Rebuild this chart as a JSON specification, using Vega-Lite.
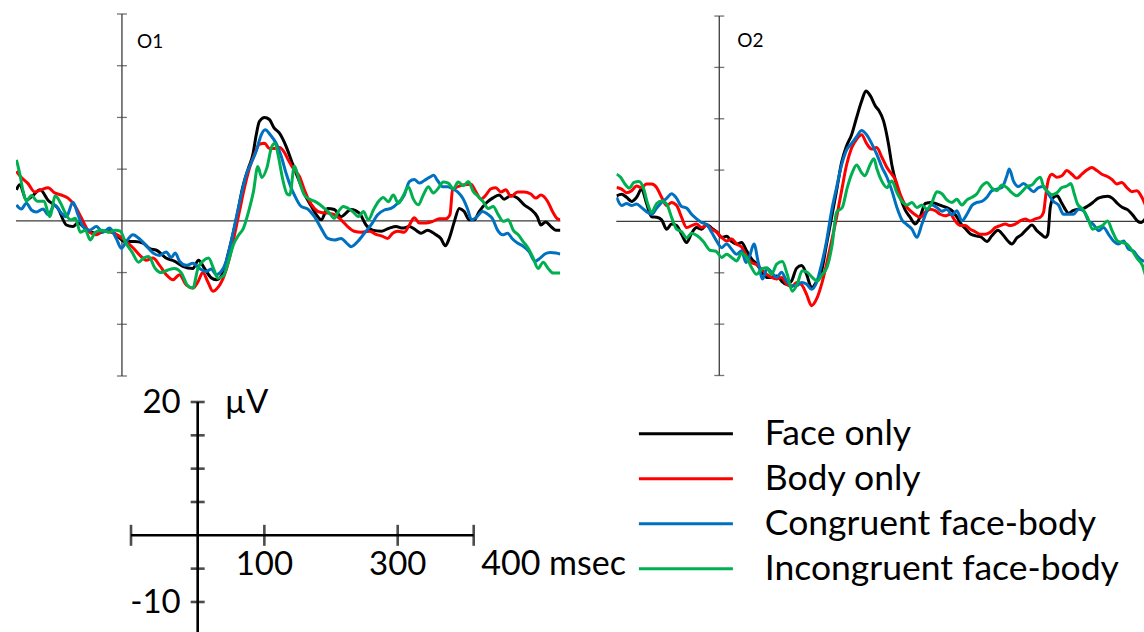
{
  "$schema": "https://vega.github.io/schema/vega-lite/v6.json",
  "background": "white",
  "padding": {"left": 15, "top": 13, "right": 0, "bottom": 0},
  "bounds": "flush",
  "columns": 2,
  "spacing": {"row": 26, "column": 55.3},
  "config": {
    "view": {"stroke": null},
    "font": "Lato",
    "text": {"font": "Lato", "color": "black"},
    "legend": {
      "orient": "none", "legendX": 621.4, "legendY": 397.2, "padding": 0,
      "symbolType": "stroke", "symbolSize": 8836, "symbolStrokeWidth": 3,
      "labelFont": "Lato", "labelFontSize": 35.5, "labelColor": "black",
      "labelOffset": 30.4, "rowPadding": 0, "clipHeight": 45, "labelLimit": 1000
    }
  },
  "datasets": {
    "o1": [
      {"cond":"Face only","t":-100.6,"v":3.0},{"cond":"Face only","t":-97.5,"v":3.5},{"cond":"Face only","t":-91,"v":2.0},{"cond":"Face only","t":-86,"v":2.35},{"cond":"Face only","t":-78,"v":3.0},{"cond":"Face only","t":-70.5,"v":2.0},{"cond":"Face only","t":-61,"v":1.2},{"cond":"Face only","t":-53,"v":-0.4},{"cond":"Face only","t":-46.7,"v":-0.55},{"cond":"Face only","t":-42,"v":-0.2},{"cond":"Face only","t":-32,"v":-1.0},{"cond":"Face only","t":-23,"v":-1.2},{"cond":"Face only","t":-13,"v":-0.9},{"cond":"Face only","t":-5.4,"v":-1.35},{"cond":"Face only","t":2.5,"v":-2.0},{"cond":"Face only","t":12,"v":-2.0},{"cond":"Face only","t":20,"v":-2.15},{"cond":"Face only","t":26,"v":-2.65},{"cond":"Face only","t":34,"v":-2.9},{"cond":"Face only","t":42,"v":-3.6},{"cond":"Face only","t":50,"v":-3.9},{"cond":"Face only","t":58,"v":-4.4},{"cond":"Face only","t":67.6,"v":-4.6},{"cond":"Face only","t":73,"v":-3.8},{"cond":"Face only","t":78.7,"v":-4.6},{"cond":"Face only","t":85,"v":-5.5},{"cond":"Face only","t":90,"v":-5.7},{"cond":"Face only","t":96,"v":-5.1},{"cond":"Face only","t":101,"v":-3.3},{"cond":"Face only","t":105.7,"v":-1.35},{"cond":"Face only","t":110.5,"v":0.9},{"cond":"Face only","t":115,"v":3.2},{"cond":"Face only","t":120.6,"v":5.1},{"cond":"Face only","t":124.8,"v":6.4},{"cond":"Face only","t":128,"v":8.3},{"cond":"Face only","t":131,"v":9.6},{"cond":"Face only","t":136,"v":10.0},{"cond":"Face only","t":140.6,"v":9.8},{"cond":"Face only","t":145,"v":9.0},{"cond":"Face only","t":150,"v":8.5},{"cond":"Face only","t":156.5,"v":7.2},{"cond":"Face only","t":162,"v":5.7},{"cond":"Face only","t":168,"v":4.1},{"cond":"Face only","t":174,"v":2.6},{"cond":"Face only","t":180,"v":1.5},{"cond":"Face only","t":186,"v":0.5},{"cond":"Face only","t":190,"v":0.1},{"cond":"Face only","t":196,"v":1.2},{"cond":"Face only","t":202.5,"v":1.1},{"cond":"Face only","t":208.9,"v":0.4},{"cond":"Face only","t":218.4,"v":1.1},{"cond":"Face only","t":226.3,"v":0.75},{"cond":"Face only","t":232.7,"v":-0.4},{"cond":"Face only","t":239,"v":-0.9},{"cond":"Face only","t":247,"v":-1.0},{"cond":"Face only","t":255,"v":-0.7},{"cond":"Face only","t":261.3,"v":-0.55},{"cond":"Face only","t":267.6,"v":-0.7},{"cond":"Face only","t":274,"v":-0.55},{"cond":"Face only","t":280.3,"v":-0.9},{"cond":"Face only","t":285,"v":-1.2},{"cond":"Face only","t":291.4,"v":-0.9},{"cond":"Face only","t":299.4,"v":-1.35},{"cond":"Face only","t":304,"v":-1.7},{"cond":"Face only","t":308.3,"v":-2.4},{"cond":"Face only","t":312,"v":-1.7},{"cond":"Face only","t":316.8,"v":-0.1},{"cond":"Face only","t":321.6,"v":1.2},{"cond":"Face only","t":326.3,"v":0.9},{"cond":"Face only","t":331,"v":0.1},{"cond":"Face only","t":335.9,"v":0.1},{"cond":"Face only","t":340.6,"v":0.9},{"cond":"Face only","t":347,"v":1.7},{"cond":"Face only","t":353.3,"v":2.2},{"cond":"Face only","t":359.7,"v":2.5},{"cond":"Face only","t":364.4,"v":2.1},{"cond":"Face only","t":370.8,"v":2.45},{"cond":"Face only","t":377,"v":2.2},{"cond":"Face only","t":383.5,"v":1.55},{"cond":"Face only","t":389.8,"v":1.1},{"cond":"Face only","t":396,"v":0.4},{"cond":"Face only","t":399.4,"v":-0.4},{"cond":"Face only","t":404,"v":-0.1},{"cond":"Face only","t":409,"v":-0.55},{"cond":"Face only","t":413.7,"v":-0.9},{"cond":"Face only","t":418,"v":-0.9},

      {"cond":"Body only","t":-100.6,"v":4.8},{"cond":"Body only","t":-95.9,"v":4.2},{"cond":"Body only","t":-89.5,"v":3.6},{"cond":"Body only","t":-83.2,"v":2.8},{"cond":"Body only","t":-76.8,"v":3.0},{"cond":"Body only","t":-70.5,"v":3.2},{"cond":"Body only","t":-64.1,"v":2.7},{"cond":"Body only","t":-57.8,"v":2.5},{"cond":"Body only","t":-51.4,"v":2.2},{"cond":"Body only","t":-45.1,"v":1.5},{"cond":"Body only","t":-38.7,"v":0.3},{"cond":"Body only","t":-32.4,"v":-0.9},{"cond":"Body only","t":-24.4,"v":-1.35},{"cond":"Body only","t":-18.1,"v":-1.0},{"cond":"Body only","t":-10.2,"v":-1.1},{"cond":"Body only","t":-2.2,"v":-1.5},{"cond":"Body only","t":4.1,"v":-2.0},{"cond":"Body only","t":10.5,"v":-2.6},{"cond":"Body only","t":16.8,"v":-3.3},{"cond":"Body only","t":23.2,"v":-3.8},{"cond":"Body only","t":29.5,"v":-3.6},{"cond":"Body only","t":35.9,"v":-4.3},{"cond":"Body only","t":42.2,"v":-5.2},{"cond":"Body only","t":48.6,"v":-5.7},{"cond":"Body only","t":54.9,"v":-5.2},{"cond":"Body only","t":61.3,"v":-6.2},{"cond":"Body only","t":67.6,"v":-6.5},{"cond":"Body only","t":72.4,"v":-5.9},{"cond":"Body only","t":77.1,"v":-5.0},{"cond":"Body only","t":81.9,"v":-5.9},{"cond":"Body only","t":86.7,"v":-6.8},{"cond":"Body only","t":91.4,"v":-6.45},{"cond":"Body only","t":97.8,"v":-5.2},{"cond":"Body only","t":102.5,"v":-3.6},{"cond":"Body only","t":107.3,"v":-1.35},{"cond":"Body only","t":112,"v":0.9},{"cond":"Body only","t":116.8,"v":3.2},{"cond":"Body only","t":121.6,"v":5.1},{"cond":"Body only","t":126.3,"v":6.4},{"cond":"Body only","t":131,"v":7.4},{"cond":"Body only","t":135.9,"v":7.5},{"cond":"Body only","t":140.6,"v":7.0},{"cond":"Body only","t":145.4,"v":7.0},{"cond":"Body only","t":150.2,"v":7.1},{"cond":"Body only","t":155,"v":6.6},{"cond":"Body only","t":159,"v":5.8},{"cond":"Body only","t":164.4,"v":4.9},{"cond":"Body only","t":169.2,"v":4.3},{"cond":"Body only","t":173.9,"v":3.0},{"cond":"Body only","t":178.7,"v":1.9},{"cond":"Body only","t":183.5,"v":1.2},{"cond":"Body only","t":189.8,"v":0.8},{"cond":"Body only","t":196.2,"v":0.75},{"cond":"Body only","t":202.5,"v":0.6},{"cond":"Body only","t":208.9,"v":0.1},{"cond":"Body only","t":215.2,"v":-0.55},{"cond":"Body only","t":221.6,"v":-1.0},{"cond":"Body only","t":227.9,"v":-1.1},{"cond":"Body only","t":235.9,"v":-1.0},{"cond":"Body only","t":242.2,"v":-1.3},{"cond":"Body only","t":248.6,"v":-1.5},{"cond":"Body only","t":253.3,"v":-1.7},{"cond":"Body only","t":258.1,"v":-1.2},{"cond":"Body only","t":262.9,"v":-1.0},{"cond":"Body only","t":269.2,"v":-1.1},{"cond":"Body only","t":274,"v":-0.4},{"cond":"Body only","t":278.7,"v":0.3},{"cond":"Body only","t":283.5,"v":-0.2},{"cond":"Body only","t":289.8,"v":-0.2},{"cond":"Body only","t":296.2,"v":-0.05},{"cond":"Body only","t":302.5,"v":0.2},{"cond":"Body only","t":308.9,"v":0.2},{"cond":"Body only","t":312.7,"v":0.6},{"cond":"Body only","t":315.2,"v":3.0},{"cond":"Body only","t":320,"v":3.3},{"cond":"Body only","t":326.3,"v":3.5},{"cond":"Body only","t":332.7,"v":3.55},{"cond":"Body only","t":337.5,"v":2.8},{"cond":"Body only","t":342.2,"v":2.1},{"cond":"Body only","t":347,"v":2.5},{"cond":"Body only","t":351.7,"v":3.1},{"cond":"Body only","t":356.5,"v":3.2},{"cond":"Body only","t":361.3,"v":2.8},{"cond":"Body only","t":366,"v":3.0},{"cond":"Body only","t":370.8,"v":2.35},{"cond":"Body only","t":377.1,"v":2.8},{"cond":"Body only","t":383.5,"v":2.8},{"cond":"Body only","t":389.8,"v":2.6},{"cond":"Body only","t":394.6,"v":2.2},{"cond":"Body only","t":399.4,"v":2.5},{"cond":"Body only","t":405.7,"v":1.9},{"cond":"Body only","t":410.5,"v":0.9},{"cond":"Body only","t":415.2,"v":0.2},{"cond":"Body only","t":417.8,"v":0.1},

      {"cond":"Congruent face-body","t":-100.6,"v":1.55},{"cond":"Congruent face-body","t":-95.9,"v":1.15},{"cond":"Congruent face-body","t":-91.1,"v":1.7},{"cond":"Congruent face-body","t":-86.3,"v":1.05},{"cond":"Congruent face-body","t":-81.6,"v":0.85},{"cond":"Congruent face-body","t":-75.2,"v":1.15},{"cond":"Congruent face-body","t":-70.5,"v":0.6},{"cond":"Congruent face-body","t":-64.1,"v":1.5},{"cond":"Congruent face-body","t":-57.8,"v":0.75},{"cond":"Congruent face-body","t":-53,"v":0.4},{"cond":"Congruent face-body","t":-46.7,"v":1.8},{"cond":"Congruent face-body","t":-41.9,"v":0.6},{"cond":"Congruent face-body","t":-37.1,"v":-0.55},{"cond":"Congruent face-body","t":-30.8,"v":-0.9},{"cond":"Congruent face-body","t":-24.4,"v":-0.55},{"cond":"Congruent face-body","t":-18.1,"v":-1.1},{"cond":"Congruent face-body","t":-11.7,"v":-0.7},{"cond":"Congruent face-body","t":-5.4,"v":-1.7},{"cond":"Congruent face-body","t":-0.6,"v":-2.65},{"cond":"Congruent face-body","t":4.1,"v":-2.0},{"cond":"Congruent face-body","t":10.5,"v":-1.35},{"cond":"Congruent face-body","t":16.8,"v":-1.75},{"cond":"Congruent face-body","t":23.2,"v":-2.4},{"cond":"Congruent face-body","t":29.5,"v":-3.1},{"cond":"Congruent face-body","t":35.9,"v":-3.35},{"cond":"Congruent face-body","t":42.2,"v":-3.0},{"cond":"Congruent face-body","t":47,"v":-3.55},{"cond":"Congruent face-body","t":50.8,"v":-3.1},{"cond":"Congruent face-body","t":54.9,"v":-3.9},{"cond":"Congruent face-body","t":61.3,"v":-4.3},{"cond":"Congruent face-body","t":67.6,"v":-4.1},{"cond":"Congruent face-body","t":74,"v":-4.6},{"cond":"Congruent face-body","t":80.3,"v":-4.9},{"cond":"Congruent face-body","t":85.1,"v":-4.65},{"cond":"Congruent face-body","t":89.8,"v":-5.2},{"cond":"Congruent face-body","t":94.6,"v":-4.9},{"cond":"Congruent face-body","t":99.4,"v":-3.9},{"cond":"Congruent face-body","t":104.1,"v":-2.0},{"cond":"Congruent face-body","t":108.9,"v":0.25},{"cond":"Congruent face-body","t":113.7,"v":2.5},{"cond":"Congruent face-body","t":118.4,"v":4.45},{"cond":"Congruent face-body","t":123.2,"v":5.6},{"cond":"Congruent face-body","t":127.9,"v":6.7},{"cond":"Congruent face-body","t":132.7,"v":8.3},{"cond":"Congruent face-body","t":136.5,"v":8.8},{"cond":"Congruent face-body","t":141.6,"v":8.3},{"cond":"Congruent face-body","t":147,"v":7.5},{"cond":"Congruent face-body","t":151.7,"v":6.3},{"cond":"Congruent face-body","t":156.5,"v":4.6},{"cond":"Congruent face-body","t":161.3,"v":3.2},{"cond":"Congruent face-body","t":164.4,"v":2.5},{"cond":"Congruent face-body","t":170.8,"v":1.4},{"cond":"Congruent face-body","t":177.1,"v":1.15},{"cond":"Congruent face-body","t":183.5,"v":0.4},{"cond":"Congruent face-body","t":189.8,"v":-0.7},{"cond":"Congruent face-body","t":196.2,"v":-1.7},{"cond":"Congruent face-body","t":202.5,"v":-1.85},{"cond":"Congruent face-body","t":208.9,"v":-1.7},{"cond":"Congruent face-body","t":215.2,"v":-2.25},{"cond":"Congruent face-body","t":218.4,"v":-2.5},{"cond":"Congruent face-body","t":224.8,"v":-2.0},{"cond":"Congruent face-body","t":231.1,"v":-1.2},{"cond":"Congruent face-body","t":237.5,"v":-0.4},{"cond":"Congruent face-body","t":243.8,"v":0.6},{"cond":"Congruent face-body","t":250.2,"v":1.05},{"cond":"Congruent face-body","t":256.5,"v":1.2},{"cond":"Congruent face-body","t":262.9,"v":1.7},{"cond":"Congruent face-body","t":269.2,"v":2.5},{"cond":"Congruent face-body","t":274,"v":3.8},{"cond":"Congruent face-body","t":278.7,"v":4.0},{"cond":"Congruent face-body","t":283.5,"v":3.65},{"cond":"Congruent face-body","t":288.3,"v":3.9},{"cond":"Congruent face-body","t":293,"v":4.2},{"cond":"Congruent face-body","t":297.1,"v":4.4},{"cond":"Congruent face-body","t":300.9,"v":3.9},{"cond":"Congruent face-body","t":305.7,"v":3.3},{"cond":"Congruent face-body","t":310.5,"v":3.3},{"cond":"Congruent face-body","t":315.2,"v":3.1},{"cond":"Congruent face-body","t":320,"v":2.8},{"cond":"Congruent face-body","t":324.8,"v":2.2},{"cond":"Congruent face-body","t":329.5,"v":1.15},{"cond":"Congruent face-body","t":333.3,"v":0.1},{"cond":"Congruent face-body","t":338.4,"v":0.4},{"cond":"Congruent face-body","t":343.8,"v":0.9},{"cond":"Congruent face-body","t":348.6,"v":0.65},{"cond":"Congruent face-body","t":353.3,"v":0.2},{"cond":"Congruent face-body","t":358.1,"v":-0.9},{"cond":"Congruent face-body","t":362.9,"v":-1.35},{"cond":"Congruent face-body","t":367.6,"v":-1.2},{"cond":"Congruent face-body","t":372.4,"v":-1.75},{"cond":"Congruent face-body","t":377.1,"v":-2.15},{"cond":"Congruent face-body","t":381.9,"v":-2.4},{"cond":"Congruent face-body","t":388.3,"v":-3.0},{"cond":"Congruent face-body","t":393.7,"v":-3.9},{"cond":"Congruent face-body","t":398.7,"v":-3.6},{"cond":"Congruent face-body","t":403.2,"v":-3.2},{"cond":"Congruent face-body","t":408.3,"v":-3.05},{"cond":"Congruent face-body","t":413.7,"v":-3.1},{"cond":"Congruent face-body","t":417.8,"v":-3.2},

      {"cond":"Incongruent face-body","t":-100.6,"v":5.9},{"cond":"Incongruent face-body","t":-97.5,"v":4.6},{"cond":"Incongruent face-body","t":-94.3,"v":2.9},{"cond":"Incongruent face-body","t":-91.1,"v":1.9},{"cond":"Incongruent face-body","t":-86.3,"v":2.45},{"cond":"Incongruent face-body","t":-80.6,"v":1.9},{"cond":"Incongruent face-body","t":-74.3,"v":1.9},{"cond":"Incongruent face-body","t":-68.9,"v":0.4},{"cond":"Incongruent face-body","t":-63.5,"v":2.4},{"cond":"Incongruent face-body","t":-58.4,"v":1.7},{"cond":"Incongruent face-body","t":-54,"v":0.75},{"cond":"Incongruent face-body","t":-48.9,"v":0.1},{"cond":"Incongruent face-body","t":-44.4,"v":0.25},{"cond":"Incongruent face-body","t":-39.7,"v":-1.1},{"cond":"Incongruent face-body","t":-34.9,"v":-0.9},{"cond":"Incongruent face-body","t":-30.2,"v":-1.85},{"cond":"Incongruent face-body","t":-25.4,"v":-1.1},{"cond":"Incongruent face-body","t":-19,"v":-0.9},{"cond":"Incongruent face-body","t":-12.7,"v":-1.1},{"cond":"Incongruent face-body","t":-6.3,"v":-0.9},{"cond":"Incongruent face-body","t":-1.6,"v":-1.0},{"cond":"Incongruent face-body","t":3.2,"v":-2.05},{"cond":"Incongruent face-body","t":9.5,"v":-3.0},{"cond":"Incongruent face-body","t":15.9,"v":-4.0},{"cond":"Incongruent face-body","t":20.6,"v":-3.6},{"cond":"Incongruent face-body","t":25.4,"v":-3.45},{"cond":"Incongruent face-body","t":31.7,"v":-4.6},{"cond":"Incongruent face-body","t":37.5,"v":-5.0},{"cond":"Incongruent face-body","t":43.8,"v":-4.75},{"cond":"Incongruent face-body","t":50.2,"v":-4.6},{"cond":"Incongruent face-body","t":56.5,"v":-5.0},{"cond":"Incongruent face-body","t":62.2,"v":-6.2},{"cond":"Incongruent face-body","t":67.6,"v":-6.5},{"cond":"Incongruent face-body","t":72.4,"v":-4.6},{"cond":"Incongruent face-body","t":77.1,"v":-3.9},{"cond":"Incongruent face-body","t":82.5,"v":-3.6},{"cond":"Incongruent face-body","t":87.3,"v":-4.6},{"cond":"Incongruent face-body","t":91.4,"v":-5.55},{"cond":"Incongruent face-body","t":96.8,"v":-5.3},{"cond":"Incongruent face-body","t":101.6,"v":-3.9},{"cond":"Incongruent face-body","t":106.3,"v":-2.3},{"cond":"Incongruent face-body","t":111.1,"v":-1.4},{"cond":"Incongruent face-body","t":115.9,"v":-0.7},{"cond":"Incongruent face-body","t":120.6,"v":0.85},{"cond":"Incongruent face-body","t":125.4,"v":2.85},{"cond":"Incongruent face-body","t":129.5,"v":5.25},{"cond":"Incongruent face-body","t":133.3,"v":4.2},{"cond":"Incongruent face-body","t":138.1,"v":5.1},{"cond":"Incongruent face-body","t":142.9,"v":7.2},{"cond":"Incongruent face-body","t":146,"v":7.5},{"cond":"Incongruent face-body","t":149.2,"v":6.2},{"cond":"Incongruent face-body","t":153.3,"v":4.0},{"cond":"Incongruent face-body","t":157.5,"v":2.6},{"cond":"Incongruent face-body","t":160,"v":2.5},{"cond":"Incongruent face-body","t":164.4,"v":5.3},{"cond":"Incongruent face-body","t":169.2,"v":3.8},{"cond":"Incongruent face-body","t":173.9,"v":2.5},{"cond":"Incongruent face-body","t":178.7,"v":2.1},{"cond":"Incongruent face-body","t":183.5,"v":1.9},{"cond":"Incongruent face-body","t":188.3,"v":1.6},{"cond":"Incongruent face-body","t":193,"v":1.2},{"cond":"Incongruent face-body","t":197.8,"v":0.75},{"cond":"Incongruent face-body","t":202.5,"v":0.25},{"cond":"Incongruent face-body","t":206.3,"v":0.9},{"cond":"Incongruent face-body","t":211.1,"v":1.4},{"cond":"Incongruent face-body","t":215.9,"v":1.2},{"cond":"Incongruent face-body","t":220.6,"v":0.85},{"cond":"Incongruent face-body","t":225.4,"v":0.4},{"cond":"Incongruent face-body","t":230.2,"v":0.9},{"cond":"Incongruent face-body","t":234.9,"v":0.1},{"cond":"Incongruent face-body","t":239.7,"v":1.05},{"cond":"Incongruent face-body","t":244.4,"v":1.85},{"cond":"Incongruent face-body","t":249.2,"v":2.25},{"cond":"Incongruent face-body","t":254,"v":1.85},{"cond":"Incongruent face-body","t":258.7,"v":2.5},{"cond":"Incongruent face-body","t":263.5,"v":1.7},{"cond":"Incongruent face-body","t":268.3,"v":2.45},{"cond":"Incongruent face-body","t":273,"v":3.3},{"cond":"Incongruent face-body","t":277.8,"v":2.1},{"cond":"Incongruent face-body","t":282.5,"v":1.55},{"cond":"Incongruent face-body","t":287.3,"v":2.5},{"cond":"Incongruent face-body","t":292.1,"v":3.3},{"cond":"Incongruent face-body","t":296.8,"v":2.7},{"cond":"Incongruent face-body","t":301.6,"v":3.15},{"cond":"Incongruent face-body","t":306.3,"v":3.75},{"cond":"Incongruent face-body","t":311.1,"v":3.65},{"cond":"Incongruent face-body","t":315.9,"v":3.1},{"cond":"Incongruent face-body","t":320.6,"v":3.75},{"cond":"Incongruent face-body","t":325.4,"v":3.4},{"cond":"Incongruent face-body","t":330.2,"v":3.8},{"cond":"Incongruent face-body","t":334.9,"v":2.85},{"cond":"Incongruent face-body","t":339.7,"v":2.35},{"cond":"Incongruent face-body","t":344.4,"v":1.85},{"cond":"Incongruent face-body","t":349.2,"v":1.2},{"cond":"Incongruent face-body","t":354,"v":1.4},{"cond":"Incongruent face-body","t":358.7,"v":0.6},{"cond":"Incongruent face-body","t":363.5,"v":-0.05},{"cond":"Incongruent face-body","t":368.3,"v":0.1},{"cond":"Incongruent face-body","t":373,"v":-0.9},{"cond":"Incongruent face-body","t":377.8,"v":-1.35},{"cond":"Incongruent face-body","t":382.5,"v":-2.0},{"cond":"Incongruent face-body","t":387.3,"v":-2.65},{"cond":"Incongruent face-body","t":392.1,"v":-3.6},{"cond":"Incongruent face-body","t":396.8,"v":-4.6},{"cond":"Incongruent face-body","t":401.6,"v":-4.0},{"cond":"Incongruent face-body","t":406.3,"v":-4.6},{"cond":"Incongruent face-body","t":411.1,"v":-5.05},{"cond":"Incongruent face-body","t":417.8,"v":-5.05}
    ],
    "o2": [
      {"cond":"Face only","t":-99.7,"v":2.5},{"cond":"Face only","t":-94.8,"v":2.65},{"cond":"Face only","t":-90,"v":2.35},{"cond":"Face only","t":-85.1,"v":1.95},{"cond":"Face only","t":-80.3,"v":2.35},{"cond":"Face only","t":-75.4,"v":3.15},{"cond":"Face only","t":-70.6,"v":1.75},{"cond":"Face only","t":-65.7,"v":0.45},{"cond":"Face only","t":-60.8,"v":0.4},{"cond":"Face only","t":-56,"v":0.15},{"cond":"Face only","t":-51.1,"v":-0.75},{"cond":"Face only","t":-46.3,"v":-0.25},{"cond":"Face only","t":-41.4,"v":-0.4},{"cond":"Face only","t":-36.6,"v":-1.25},{"cond":"Face only","t":-31.7,"v":-2.05},{"cond":"Face only","t":-26.9,"v":-1.15},{"cond":"Face only","t":-22,"v":-0.6},{"cond":"Face only","t":-17.2,"v":-0.75},{"cond":"Face only","t":-12.3,"v":-0.3},{"cond":"Face only","t":-7.4,"v":-0.65},{"cond":"Face only","t":-2.6,"v":-1.0},{"cond":"Face only","t":2.3,"v":-1.55},{"cond":"Face only","t":7.1,"v":-1.45},{"cond":"Face only","t":12,"v":-1.95},{"cond":"Face only","t":16.8,"v":-2.2},{"cond":"Face only","t":21.7,"v":-2.05},{"cond":"Face only","t":26.5,"v":-2.85},{"cond":"Face only","t":31.4,"v":-3.65},{"cond":"Face only","t":36.2,"v":-4.15},{"cond":"Face only","t":41.1,"v":-4.85},{"cond":"Face only","t":46,"v":-5.45},{"cond":"Face only","t":50.8,"v":-5.45},{"cond":"Face only","t":55.7,"v":-5.3},{"cond":"Face only","t":60.5,"v":-5.8},{"cond":"Face only","t":65.4,"v":-6.15},{"cond":"Face only","t":70.2,"v":-5.8},{"cond":"Face only","t":75.1,"v":-4.55},{"cond":"Face only","t":79.9,"v":-4.3},{"cond":"Face only","t":84.8,"v":-5.15},{"cond":"Face only","t":89.6,"v":-6.45},{"cond":"Face only","t":94.5,"v":-5.85},{"cond":"Face only","t":99.4,"v":-4.8},{"cond":"Face only","t":104.2,"v":-2.2},{"cond":"Face only","t":109.1,"v":0.4},{"cond":"Face only","t":113.9,"v":3.0},{"cond":"Face only","t":118.8,"v":5.75},{"cond":"Face only","t":123.6,"v":7.35},{"cond":"Face only","t":128.5,"v":8.45},{"cond":"Face only","t":133.3,"v":10.1},{"cond":"Face only","t":138.2,"v":11.7},{"cond":"Face only","t":142.4,"v":12.7},{"cond":"Face only","t":146.9,"v":12.2},{"cond":"Face only","t":151.8,"v":11.2},{"cond":"Face only","t":155,"v":10.8},{"cond":"Face only","t":159.5,"v":9.8},{"cond":"Face only","t":164.4,"v":7.5},{"cond":"Face only","t":167.6,"v":5.5},{"cond":"Face only","t":171.5,"v":3.8},{"cond":"Face only","t":175.7,"v":2.35},{"cond":"Face only","t":180.6,"v":1.1},{"cond":"Face only","t":185.4,"v":0.4},{"cond":"Face only","t":190.3,"v":-0.25},{"cond":"Face only","t":195.1,"v":0.45},{"cond":"Face only","t":200,"v":1.75},{"cond":"Face only","t":205.8,"v":1.85},{"cond":"Face only","t":211.3,"v":1.7},{"cond":"Face only","t":216.8,"v":1.5},{"cond":"Face only","t":222,"v":1.3},{"cond":"Face only","t":226.5,"v":1.0},{"cond":"Face only","t":230.7,"v":0.45},{"cond":"Face only","t":234.9,"v":-0.25},{"cond":"Face only","t":239.5,"v":-0.75},{"cond":"Face only","t":244.3,"v":-1.25},{"cond":"Face only","t":249.2,"v":-1.4},{"cond":"Face only","t":254,"v":-1.5},{"cond":"Face only","t":259.9,"v":-1.95},{"cond":"Face only","t":264.7,"v":-1.4},{"cond":"Face only","t":270.6,"v":-0.85},{"cond":"Face only","t":275.4,"v":-1.3},{"cond":"Face only","t":280.3,"v":-1.9},{"cond":"Face only","t":284.1,"v":-2.2},{"cond":"Face only","t":289,"v":-1.6},{"cond":"Face only","t":293.9,"v":-1.25},{"cond":"Face only","t":298.7,"v":-0.75},{"cond":"Face only","t":303.6,"v":-0.35},{"cond":"Face only","t":308.4,"v":-0.9},{"cond":"Face only","t":312.6,"v":-1.25},{"cond":"Face only","t":316.5,"v":-1.55},{"cond":"Face only","t":319.1,"v":-1.25},{"cond":"Face only","t":321.4,"v":1.35},{"cond":"Face only","t":324.6,"v":2.35},{"cond":"Face only","t":328.2,"v":2.5},{"cond":"Face only","t":331.7,"v":1.95},{"cond":"Face only","t":335.3,"v":1.3},{"cond":"Face only","t":339.2,"v":0.8},{"cond":"Face only","t":343.4,"v":1.05},{"cond":"Face only","t":348.2,"v":1.2},{"cond":"Face only","t":353.1,"v":1.25},{"cond":"Face only","t":357.9,"v":1.5},{"cond":"Face only","t":362.8,"v":1.85},{"cond":"Face only","t":367.6,"v":2.25},{"cond":"Face only","t":372.5,"v":2.4},{"cond":"Face only","t":377.3,"v":2.45},{"cond":"Face only","t":381.9,"v":2.25},{"cond":"Face only","t":386.7,"v":1.75},{"cond":"Face only","t":391.6,"v":1.35},{"cond":"Face only","t":396.4,"v":1.15},{"cond":"Face only","t":401.3,"v":0.65},{"cond":"Face only","t":406.1,"v":0.05},{"cond":"Face only","t":409.7,"v":-0.1},{"cond":"Face only","t":414,"v":0.3},

      {"cond":"Body only","t":-99.7,"v":3.3},{"cond":"Body only","t":-94.8,"v":3.15},{"cond":"Body only","t":-90,"v":2.8},{"cond":"Body only","t":-85.1,"v":3.0},{"cond":"Body only","t":-80.3,"v":3.45},{"cond":"Body only","t":-75.4,"v":3.3},{"cond":"Body only","t":-70.6,"v":3.65},{"cond":"Body only","t":-65.7,"v":3.65},{"cond":"Body only","t":-60.8,"v":3.3},{"cond":"Body only","t":-56,"v":2.35},{"cond":"Body only","t":-51.1,"v":1.55},{"cond":"Body only","t":-46.3,"v":1.85},{"cond":"Body only","t":-41.4,"v":1.55},{"cond":"Body only","t":-36.6,"v":0.4},{"cond":"Body only","t":-31.7,"v":-0.6},{"cond":"Body only","t":-26.9,"v":-0.4},{"cond":"Body only","t":-22,"v":-0.25},{"cond":"Body only","t":-17.2,"v":-0.6},{"cond":"Body only","t":-12.3,"v":-0.4},{"cond":"Body only","t":-7.4,"v":-0.75},{"cond":"Body only","t":-2.6,"v":-1.05},{"cond":"Body only","t":2.3,"v":-1.55},{"cond":"Body only","t":7.1,"v":-1.9},{"cond":"Body only","t":12,"v":-1.7},{"cond":"Body only","t":16.8,"v":-2.2},{"cond":"Body only","t":21.7,"v":-2.5},{"cond":"Body only","t":26.5,"v":-3.35},{"cond":"Body only","t":31.4,"v":-4.0},{"cond":"Body only","t":36.2,"v":-4.2},{"cond":"Body only","t":41.1,"v":-4.65},{"cond":"Body only","t":46,"v":-5.15},{"cond":"Body only","t":50.8,"v":-5.45},{"cond":"Body only","t":55.7,"v":-5.6},{"cond":"Body only","t":60.5,"v":-5.45},{"cond":"Body only","t":65.4,"v":-6.1},{"cond":"Body only","t":70.2,"v":-6.35},{"cond":"Body only","t":75.1,"v":-5.95},{"cond":"Body only","t":79.9,"v":-6.15},{"cond":"Body only","t":84.8,"v":-7.1},{"cond":"Body only","t":89.6,"v":-8.2},{"cond":"Body only","t":94.5,"v":-7.55},{"cond":"Body only","t":99.4,"v":-6.1},{"cond":"Body only","t":104.2,"v":-4.15},{"cond":"Body only","t":109.1,"v":-1.9},{"cond":"Body only","t":113.9,"v":0.4},{"cond":"Body only","t":118.8,"v":3.0},{"cond":"Body only","t":123.6,"v":5.5},{"cond":"Body only","t":128.5,"v":7.15},{"cond":"Body only","t":133.3,"v":8.0},{"cond":"Body only","t":138.2,"v":8.45},{"cond":"Body only","t":143,"v":7.6},{"cond":"Body only","t":147.9,"v":7.05},{"cond":"Body only","t":152.8,"v":7.2},{"cond":"Body only","t":157.9,"v":6.25},{"cond":"Body only","t":162.8,"v":5.25},{"cond":"Body only","t":166.7,"v":4.7},{"cond":"Body only","t":170.9,"v":4.1},{"cond":"Body only","t":175.7,"v":2.65},{"cond":"Body only","t":180.6,"v":1.6},{"cond":"Body only","t":185.4,"v":1.05},{"cond":"Body only","t":190.3,"v":0.65},{"cond":"Body only","t":195.1,"v":0.4},{"cond":"Body only","t":200,"v":0.9},{"cond":"Body only","t":204.9,"v":1.2},{"cond":"Body only","t":209.7,"v":1.05},{"cond":"Body only","t":214.6,"v":0.7},{"cond":"Body only","t":219.4,"v":0.55},{"cond":"Body only","t":224.3,"v":0.7},{"cond":"Body only","t":229.1,"v":0.05},{"cond":"Body only","t":234,"v":-0.4},{"cond":"Body only","t":238.8,"v":-0.4},{"cond":"Body only","t":243.7,"v":-0.75},{"cond":"Body only","t":248.5,"v":-1.0},{"cond":"Body only","t":253.4,"v":-1.25},{"cond":"Body only","t":258.3,"v":-1.25},{"cond":"Body only","t":263.1,"v":-1.05},{"cond":"Body only","t":268,"v":-0.6},{"cond":"Body only","t":272.8,"v":-0.4},{"cond":"Body only","t":277.7,"v":-0.25},{"cond":"Body only","t":282.5,"v":-0.4},{"cond":"Body only","t":287.4,"v":-0.25},{"cond":"Body only","t":292.2,"v":0.05},{"cond":"Body only","t":297.1,"v":0.25},{"cond":"Body only","t":301.9,"v":0.05},{"cond":"Body only","t":306.8,"v":0.25},{"cond":"Body only","t":311.7,"v":0.4},{"cond":"Body only","t":314.9,"v":0.9},{"cond":"Body only","t":317.2,"v":2.65},{"cond":"Body only","t":319.7,"v":4.1},{"cond":"Body only","t":323,"v":4.6},{"cond":"Body only","t":327.8,"v":4.3},{"cond":"Body only","t":332.7,"v":4.45},{"cond":"Body only","t":337.5,"v":4.95},{"cond":"Body only","t":342.4,"v":4.6},{"cond":"Body only","t":347.2,"v":4.2},{"cond":"Body only","t":352.1,"v":4.6},{"cond":"Body only","t":356.9,"v":5.0},{"cond":"Body only","t":361.8,"v":5.25},{"cond":"Body only","t":366.7,"v":4.95},{"cond":"Body only","t":371.5,"v":4.6},{"cond":"Body only","t":376.4,"v":4.4},{"cond":"Body only","t":381.2,"v":4.1},{"cond":"Body only","t":386.1,"v":3.65},{"cond":"Body only","t":390.9,"v":3.8},{"cond":"Body only","t":395.8,"v":3.3},{"cond":"Body only","t":400.6,"v":2.9},{"cond":"Body only","t":405.5,"v":3.0},{"cond":"Body only","t":410.4,"v":2.35},{"cond":"Body only","t":414,"v":1.55},

      {"cond":"Congruent face-body","t":-99.7,"v":2.35},{"cond":"Congruent face-body","t":-94.8,"v":1.55},{"cond":"Congruent face-body","t":-90,"v":1.75},{"cond":"Congruent face-body","t":-85.1,"v":1.55},{"cond":"Congruent face-body","t":-80.3,"v":1.7},{"cond":"Congruent face-body","t":-75.4,"v":1.35},{"cond":"Congruent face-body","t":-70.6,"v":0.95},{"cond":"Congruent face-body","t":-65.7,"v":0.7},{"cond":"Congruent face-body","t":-60.8,"v":1.3},{"cond":"Congruent face-body","t":-56,"v":1.85},{"cond":"Congruent face-body","t":-51.1,"v":2.25},{"cond":"Congruent face-body","t":-46.3,"v":2.7},{"cond":"Congruent face-body","t":-41.4,"v":2.25},{"cond":"Congruent face-body","t":-36.6,"v":1.45},{"cond":"Congruent face-body","t":-31.7,"v":1.3},{"cond":"Congruent face-body","t":-26.9,"v":0.7},{"cond":"Congruent face-body","t":-22,"v":0.25},{"cond":"Congruent face-body","t":-17.2,"v":-0.1},{"cond":"Congruent face-body","t":-12.3,"v":-0.3},{"cond":"Congruent face-body","t":-7.4,"v":-1.05},{"cond":"Congruent face-body","t":-2.6,"v":-1.9},{"cond":"Congruent face-body","t":2.3,"v":-2.55},{"cond":"Congruent face-body","t":7.1,"v":-2.2},{"cond":"Congruent face-body","t":12,"v":-2.7},{"cond":"Congruent face-body","t":16.8,"v":-3.2},{"cond":"Congruent face-body","t":21.7,"v":-2.85},{"cond":"Congruent face-body","t":25.9,"v":-4.0},{"cond":"Congruent face-body","t":29.1,"v":-3.5},{"cond":"Congruent face-body","t":33.7,"v":-2.2},{"cond":"Congruent face-body","t":37.9,"v":-4.0},{"cond":"Congruent face-body","t":42.1,"v":-5.6},{"cond":"Congruent face-body","t":46.6,"v":-4.55},{"cond":"Congruent face-body","t":51.5,"v":-5.05},{"cond":"Congruent face-body","t":55.7,"v":-5.45},{"cond":"Congruent face-body","t":60.5,"v":-4.95},{"cond":"Congruent face-body","t":65.4,"v":-5.8},{"cond":"Congruent face-body","t":70.2,"v":-6.25},{"cond":"Congruent face-body","t":75.1,"v":-6.25},{"cond":"Congruent face-body","t":79.9,"v":-5.95},{"cond":"Congruent face-body","t":84.8,"v":-6.1},{"cond":"Congruent face-body","t":89.6,"v":-6.6},{"cond":"Congruent face-body","t":94.5,"v":-5.95},{"cond":"Congruent face-body","t":99.4,"v":-4.15},{"cond":"Congruent face-body","t":104.2,"v":-1.9},{"cond":"Congruent face-body","t":109.1,"v":1.05},{"cond":"Congruent face-body","t":113.9,"v":3.3},{"cond":"Congruent face-body","t":118.8,"v":5.5},{"cond":"Congruent face-body","t":123.6,"v":6.95},{"cond":"Congruent face-body","t":128.5,"v":7.6},{"cond":"Congruent face-body","t":133.3,"v":8.25},{"cond":"Congruent face-body","t":138.2,"v":8.85},{"cond":"Congruent face-body","t":143,"v":8.45},{"cond":"Congruent face-body","t":147.9,"v":7.6},{"cond":"Congruent face-body","t":153.1,"v":6.5},{"cond":"Congruent face-body","t":157.9,"v":5.3},{"cond":"Congruent face-body","t":162.8,"v":4.3},{"cond":"Congruent face-body","t":167.6,"v":3.0},{"cond":"Congruent face-body","t":172.5,"v":1.35},{"cond":"Congruent face-body","t":177.4,"v":0.15},{"cond":"Congruent face-body","t":182.2,"v":-0.3},{"cond":"Congruent face-body","t":187.1,"v":-0.75},{"cond":"Congruent face-body","t":191.9,"v":-1.55},{"cond":"Congruent face-body","t":196.8,"v":-0.25},{"cond":"Congruent face-body","t":201.6,"v":1.0},{"cond":"Congruent face-body","t":206.5,"v":1.6},{"cond":"Congruent face-body","t":211.3,"v":1.35},{"cond":"Congruent face-body","t":216.2,"v":1.0},{"cond":"Congruent face-body","t":221,"v":1.2},{"cond":"Congruent face-body","t":225.9,"v":0.65},{"cond":"Congruent face-body","t":230.7,"v":1.05},{"cond":"Congruent face-body","t":235.6,"v":0.05},{"cond":"Congruent face-body","t":240.5,"v":0.7},{"cond":"Congruent face-body","t":245.3,"v":1.55},{"cond":"Congruent face-body","t":250.2,"v":1.85},{"cond":"Congruent face-body","t":255,"v":1.95},{"cond":"Congruent face-body","t":259.9,"v":2.35},{"cond":"Congruent face-body","t":264.7,"v":3.0},{"cond":"Congruent face-body","t":269.6,"v":3.15},{"cond":"Congruent face-body","t":274.4,"v":3.3},{"cond":"Congruent face-body","t":279.3,"v":4.45},{"cond":"Congruent face-body","t":281.6,"v":5.1},{"cond":"Congruent face-body","t":285.8,"v":3.9},{"cond":"Congruent face-body","t":290.6,"v":3.4},{"cond":"Congruent face-body","t":295.5,"v":3.7},{"cond":"Congruent face-body","t":300.3,"v":3.3},{"cond":"Congruent face-body","t":305.2,"v":2.9},{"cond":"Congruent face-body","t":310,"v":3.3},{"cond":"Congruent face-body","t":314.9,"v":3.4},{"cond":"Congruent face-body","t":319.7,"v":2.65},{"cond":"Congruent face-body","t":324.6,"v":1.95},{"cond":"Congruent face-body","t":329.4,"v":1.6},{"cond":"Congruent face-body","t":334.3,"v":0.7},{"cond":"Congruent face-body","t":339.2,"v":0.7},{"cond":"Congruent face-body","t":344,"v":0.7},{"cond":"Congruent face-body","t":348.9,"v":1.2},{"cond":"Congruent face-body","t":353.7,"v":1.05},{"cond":"Congruent face-body","t":358.6,"v":0.05},{"cond":"Congruent face-body","t":363.4,"v":-0.3},{"cond":"Congruent face-body","t":368.3,"v":-0.9},{"cond":"Congruent face-body","t":373.1,"v":-0.6},{"cond":"Congruent face-body","t":378,"v":-1.25},{"cond":"Congruent face-body","t":382.8,"v":-1.9},{"cond":"Congruent face-body","t":387.7,"v":-2.2},{"cond":"Congruent face-body","t":392.6,"v":-1.9},{"cond":"Congruent face-body","t":397.4,"v":-2.7},{"cond":"Congruent face-body","t":402.3,"v":-2.9},{"cond":"Congruent face-body","t":407.1,"v":-3.5},{"cond":"Congruent face-body","t":412,"v":-3.85},{"cond":"Congruent face-body","t":414,"v":-3.85},

      {"cond":"Incongruent face-body","t":-99.7,"v":4.6},{"cond":"Incongruent face-body","t":-95.8,"v":4.3},{"cond":"Incongruent face-body","t":-91.6,"v":3.65},{"cond":"Incongruent face-body","t":-87.4,"v":3.25},{"cond":"Incongruent face-body","t":-82.8,"v":3.8},{"cond":"Incongruent face-body","t":-78,"v":3.9},{"cond":"Incongruent face-body","t":-73.8,"v":3.3},{"cond":"Incongruent face-body","t":-69.6,"v":1.75},{"cond":"Incongruent face-body","t":-65.7,"v":0.9},{"cond":"Incongruent face-body","t":-60.8,"v":1.75},{"cond":"Incongruent face-body","t":-56,"v":2.0},{"cond":"Incongruent face-body","t":-51.1,"v":1.7},{"cond":"Incongruent face-body","t":-46.3,"v":0.4},{"cond":"Incongruent face-body","t":-41.4,"v":-0.75},{"cond":"Incongruent face-body","t":-36.6,"v":-1.0},{"cond":"Incongruent face-body","t":-31.7,"v":-1.6},{"cond":"Incongruent face-body","t":-26.9,"v":-1.15},{"cond":"Incongruent face-body","t":-21.4,"v":-1.4},{"cond":"Incongruent face-body","t":-15.5,"v":-1.95},{"cond":"Incongruent face-body","t":-9.1,"v":-2.8},{"cond":"Incongruent face-body","t":-3.2,"v":-2.9},{"cond":"Incongruent face-body","t":2.3,"v":-3.5},{"cond":"Incongruent face-body","t":7.1,"v":-3.2},{"cond":"Incongruent face-body","t":12,"v":-3.5},{"cond":"Incongruent face-body","t":16.8,"v":-3.85},{"cond":"Incongruent face-body","t":21.7,"v":-3.1},{"cond":"Incongruent face-body","t":26.5,"v":-3.5},{"cond":"Incongruent face-body","t":31.4,"v":-4.5},{"cond":"Incongruent face-body","t":36.2,"v":-5.15},{"cond":"Incongruent face-body","t":41.1,"v":-4.65},{"cond":"Incongruent face-body","t":46,"v":-4.5},{"cond":"Incongruent face-body","t":50.8,"v":-5.15},{"cond":"Incongruent face-body","t":55.7,"v":-4.15},{"cond":"Incongruent face-body","t":61.2,"v":-3.9},{"cond":"Incongruent face-body","t":66,"v":-5.15},{"cond":"Incongruent face-body","t":70.9,"v":-6.8},{"cond":"Incongruent face-body","t":75.7,"v":-6.1},{"cond":"Incongruent face-body","t":80.6,"v":-4.8},{"cond":"Incongruent face-body","t":85.4,"v":-4.95},{"cond":"Incongruent face-body","t":90.3,"v":-5.45},{"cond":"Incongruent face-body","t":95.1,"v":-5.8},{"cond":"Incongruent face-body","t":100,"v":-5.15},{"cond":"Incongruent face-body","t":104.9,"v":-4.4},{"cond":"Incongruent face-body","t":109.7,"v":-2.2},{"cond":"Incongruent face-body","t":113.9,"v":0.9},{"cond":"Incongruent face-body","t":119.4,"v":1.35},{"cond":"Incongruent face-body","t":124.3,"v":3.3},{"cond":"Incongruent face-body","t":129.1,"v":4.75},{"cond":"Incongruent face-body","t":133.3,"v":5.5},{"cond":"Incongruent face-body","t":138.2,"v":4.75},{"cond":"Incongruent face-body","t":141.4,"v":4.45},{"cond":"Incongruent face-body","t":146.3,"v":5.5},{"cond":"Incongruent face-body","t":150.2,"v":6.1},{"cond":"Incongruent face-body","t":153.1,"v":5.1},{"cond":"Incongruent face-body","t":157.9,"v":3.9},{"cond":"Incongruent face-body","t":162.8,"v":3.3},{"cond":"Incongruent face-body","t":167.6,"v":3.95},{"cond":"Incongruent face-body","t":172.5,"v":2.8},{"cond":"Incongruent face-body","t":177.4,"v":1.95},{"cond":"Incongruent face-body","t":182.2,"v":1.6},{"cond":"Incongruent face-body","t":187.1,"v":1.85},{"cond":"Incongruent face-body","t":191.9,"v":1.35},{"cond":"Incongruent face-body","t":196.8,"v":1.6},{"cond":"Incongruent face-body","t":201.6,"v":1.2},{"cond":"Incongruent face-body","t":206.5,"v":1.85},{"cond":"Incongruent face-body","t":211.3,"v":2.9},{"cond":"Incongruent face-body","t":216.2,"v":2.7},{"cond":"Incongruent face-body","t":221,"v":2.1},{"cond":"Incongruent face-body","t":225.9,"v":1.85},{"cond":"Incongruent face-body","t":230.7,"v":2.15},{"cond":"Incongruent face-body","t":235.6,"v":1.6},{"cond":"Incongruent face-body","t":240.5,"v":2.1},{"cond":"Incongruent face-body","t":245.3,"v":2.35},{"cond":"Incongruent face-body","t":250.2,"v":2.7},{"cond":"Incongruent face-body","t":255,"v":3.45},{"cond":"Incongruent face-body","t":259.9,"v":3.8},{"cond":"Incongruent face-body","t":264.7,"v":3.25},{"cond":"Incongruent face-body","t":269.6,"v":3.0},{"cond":"Incongruent face-body","t":274.4,"v":3.55},{"cond":"Incongruent face-body","t":279.3,"v":3.3},{"cond":"Incongruent face-body","t":284.1,"v":2.8},{"cond":"Incongruent face-body","t":289,"v":2.5},{"cond":"Incongruent face-body","t":293.9,"v":2.9},{"cond":"Incongruent face-body","t":298.7,"v":3.4},{"cond":"Incongruent face-body","t":303.6,"v":3.55},{"cond":"Incongruent face-body","t":308.4,"v":4.1},{"cond":"Incongruent face-body","t":311.7,"v":4.3},{"cond":"Incongruent face-body","t":314.9,"v":3.4},{"cond":"Incongruent face-body","t":319.1,"v":2.9},{"cond":"Incongruent face-body","t":323,"v":2.6},{"cond":"Incongruent face-body","t":327.8,"v":2.8},{"cond":"Incongruent face-body","t":332.7,"v":3.3},{"cond":"Incongruent face-body","t":337.5,"v":3.45},{"cond":"Incongruent face-body","t":341.4,"v":3.7},{"cond":"Incongruent face-body","t":344.7,"v":2.7},{"cond":"Incongruent face-body","t":347.9,"v":1.7},{"cond":"Incongruent face-body","t":352.8,"v":1.2},{"cond":"Incongruent face-body","t":357.6,"v":0.4},{"cond":"Incongruent face-body","t":362.5,"v":-0.75},{"cond":"Incongruent face-body","t":367.3,"v":-0.6},{"cond":"Incongruent face-body","t":372.2,"v":-0.4},{"cond":"Incongruent face-body","t":377,"v":0.05},{"cond":"Incongruent face-body","t":381.9,"v":-1.0},{"cond":"Incongruent face-body","t":386.7,"v":-1.9},{"cond":"Incongruent face-body","t":391.6,"v":-2.05},{"cond":"Incongruent face-body","t":396.4,"v":-2.25},{"cond":"Incongruent face-body","t":401.3,"v":-2.9},{"cond":"Incongruent face-body","t":406.1,"v":-3.65},{"cond":"Incongruent face-body","t":411,"v":-4.3},{"cond":"Incongruent face-body","t":414,"v":-5.3}
    ],
    "ticks": [{"v":20},{"v":15},{"v":10},{"v":5},{"v":-5},{"v":-10},{"v":-15}],
    "xticks": [{"t":-100},{"t":100},{"t":300},{"t":414}],
    "ylabels": [{"label":"20","v":20},{"label":"-10","v":-10}],
    "xlabels": [{"label":"100","t":100},{"label":"300","t":300}]
  },
  "concat": [
    {
      "width": 544.4, "height": 362,
      "layer": [
        {"data": {"values": [{"z": 0}]}, "mark": {"type": "rule", "color": "#3c3c3c", "strokeWidth": 1.3},
         "encoding": {"y": {"field": "z", "type": "quantitative", "axis": null, "scale": {"domain": [-15, 20], "nice": false, "zero": false}}}},
        {"data": {"values": [{"t": 0, "lo": -15, "hi": 20}]}, "mark": {"type": "rule", "color": "#3c3c3c", "strokeWidth": 1.3},
         "encoding": {"x": {"field": "t", "type": "quantitative", "axis": null, "scale": {"domain": [-101, 418], "nice": false, "zero": false}},
                      "y": {"field": "lo", "type": "quantitative", "axis": null, "scale": {"domain": [-15, 20], "nice": false, "zero": false}}, "y2": {"field": "hi"}}},
        {"data": {"name": "ticks"}, "mark": {"type": "tick", "orient": "horizontal", "size": 10, "thickness": 1.3, "color": "#3c3c3c"},
         "encoding": {"x": {"datum": 0, "type": "quantitative", "axis": null, "scale": {"domain": [-101, 418], "nice": false, "zero": false}},
                      "y": {"field": "v", "type": "quantitative", "axis": null, "scale": {"domain": [-15, 20], "nice": false, "zero": false}}}},
        {"data": {"values": [{"label": "O1", "t": 0, "v": 20}]}, "mark": {"type": "text", "align": "left", "baseline": "alphabetic", "dx": 15, "dy": 33.7, "fontSize": 19},
         "encoding": {"x": {"field": "t", "type": "quantitative", "axis": null, "scale": {"domain": [-101, 418], "nice": false, "zero": false}},
                      "y": {"field": "v", "type": "quantitative", "axis": null, "scale": {"domain": [-15, 20], "nice": false, "zero": false}}, "text": {"field": "label"}}},
        {"data": {"name": "o1"}, "mark": {"type": "line", "strokeWidth": 3, "interpolate": "monotone", "clip": true},
         "encoding": {"x": {"field": "t", "type": "quantitative", "axis": null, "scale": {"domain": [-101, 418], "nice": false, "zero": false}},
                      "y": {"field": "v", "type": "quantitative", "axis": null, "scale": {"domain": [-15, 20], "nice": false, "zero": false}},
                      "color": {"field": "cond", "type": "nominal", "sort": null, "title": null,
                                "scale": {"domain": ["Face only", "Body only", "Congruent face-body", "Incongruent face-body"], "range": ["#000000", "#ff0000", "#0070c0", "#00b050"]}}}}
      ]
    },
    {
      "width": 529.3, "height": 361.5,
      "layer": [
        {"data": {"values": [{"z": 0}]}, "mark": {"type": "rule", "color": "#3c3c3c", "strokeWidth": 1.3},
         "encoding": {"y": {"field": "z", "type": "quantitative", "axis": null, "scale": {"domain": [-15, 20.2], "nice": false, "zero": false}}}},
        {"data": {"values": [{"t": 0, "lo": -15, "hi": 20}]}, "mark": {"type": "rule", "color": "#3c3c3c", "strokeWidth": 1.3},
         "encoding": {"x": {"field": "t", "type": "quantitative", "axis": null, "scale": {"domain": [-100, 414], "nice": false, "zero": false}},
                      "y": {"field": "lo", "type": "quantitative", "axis": null, "scale": {"domain": [-15, 20.2], "nice": false, "zero": false}}, "y2": {"field": "hi"}}},
        {"data": {"name": "ticks"}, "mark": {"type": "tick", "orient": "horizontal", "size": 10, "thickness": 1.3, "color": "#3c3c3c"},
         "encoding": {"x": {"datum": 0, "type": "quantitative", "axis": null, "scale": {"domain": [-100, 414], "nice": false, "zero": false}},
                      "y": {"field": "v", "type": "quantitative", "axis": null, "scale": {"domain": [-15, 20.2], "nice": false, "zero": false}}}},
        {"data": {"values": [{"label": "O2", "t": 0, "v": 20}]}, "mark": {"type": "text", "align": "left", "baseline": "alphabetic", "dx": 18, "dy": 31, "fontSize": 19},
         "encoding": {"x": {"field": "t", "type": "quantitative", "axis": null, "scale": {"domain": [-100, 414], "nice": false, "zero": false}},
                      "y": {"field": "v", "type": "quantitative", "axis": null, "scale": {"domain": [-15, 20.2], "nice": false, "zero": false}}, "text": {"field": "label"}}},
        {"data": {"name": "o2"}, "mark": {"type": "line", "strokeWidth": 3, "interpolate": "monotone", "clip": true},
         "encoding": {"x": {"field": "t", "type": "quantitative", "axis": null, "scale": {"domain": [-100, 414], "nice": false, "zero": false}},
                      "y": {"field": "v", "type": "quantitative", "axis": null, "scale": {"domain": [-15, 20.2], "nice": false, "zero": false}},
                      "color": {"field": "cond", "type": "nominal", "sort": null, "title": null,
                                "scale": {"domain": ["Face only", "Body only", "Congruent face-body", "Incongruent face-body"], "range": ["#000000", "#ff0000", "#0070c0", "#00b050"]}}}}
      ]
    },
    {
      "width": 457.7, "height": 233.3,
      "layer": [
        {"data": {"values": [{"t": 0, "t2": 0, "lo": -15, "hi": 20}, {"t": -100, "t2": 414, "lo": 0, "hi": 0}]},
         "mark": {"type": "rule", "color": "black", "strokeWidth": 2.6},
         "encoding": {"x": {"field": "t", "type": "quantitative", "axis": null, "scale": {"domain": [-272.5, 414], "nice": false, "zero": false}}, "x2": {"field": "t2"},
                      "y": {"field": "lo", "type": "quantitative", "axis": null, "scale": {"domain": [-15, 20], "nice": false, "zero": false}}, "y2": {"field": "hi"}}},
        {"data": {"name": "ticks"}, "mark": {"type": "tick", "orient": "horizontal", "size": 14, "thickness": 2.6, "color": "black"},
         "encoding": {"x": {"datum": 0, "type": "quantitative", "axis": null, "scale": {"domain": [-272.5, 414], "nice": false, "zero": false}},
                      "y": {"field": "v", "type": "quantitative", "axis": null, "scale": {"domain": [-15, 20], "nice": false, "zero": false}}}},
        {"data": {"name": "xticks"}, "mark": {"type": "tick", "orient": "vertical", "size": 21, "thickness": 2.6, "color": "black"},
         "encoding": {"x": {"field": "t", "type": "quantitative", "axis": null, "scale": {"domain": [-272.5, 414], "nice": false, "zero": false}},
                      "y": {"datum": 0, "type": "quantitative", "axis": null, "scale": {"domain": [-15, 20], "nice": false, "zero": false}}}},
        {"data": {"name": "ylabels"}, "mark": {"type": "text", "align": "right", "baseline": "alphabetic", "dx": -17, "dy": 11, "fontSize": 33},
         "encoding": {"x": {"datum": 0, "type": "quantitative", "axis": null, "scale": {"domain": [-272.5, 414], "nice": false, "zero": false}},
                      "y": {"field": "v", "type": "quantitative", "axis": null, "scale": {"domain": [-15, 20], "nice": false, "zero": false}}, "text": {"field": "label"}}},
        {"data": {"values": [{"label": "µV", "t": 0, "v": 20}]}, "mark": {"type": "text", "align": "left", "baseline": "alphabetic", "dx": 27, "dy": 11, "fontSize": 33},
         "encoding": {"x": {"field": "t", "type": "quantitative", "axis": null, "scale": {"domain": [-272.5, 414], "nice": false, "zero": false}},
                      "y": {"field": "v", "type": "quantitative", "axis": null, "scale": {"domain": [-15, 20], "nice": false, "zero": false}}, "text": {"field": "label"}}},
        {"data": {"name": "xlabels"}, "mark": {"type": "text", "align": "center", "baseline": "alphabetic", "dy": 40, "fontSize": 33},
         "encoding": {"x": {"field": "t", "type": "quantitative", "axis": null, "scale": {"domain": [-272.5, 414], "nice": false, "zero": false}},
                      "y": {"datum": 0, "type": "quantitative", "axis": null, "scale": {"domain": [-15, 20], "nice": false, "zero": false}}, "text": {"field": "label"}}},
        {"data": {"values": [{"label": "400 msec", "t": 414, "v": 0}]}, "mark": {"type": "text", "align": "left", "baseline": "alphabetic", "dx": 7.5, "dy": 40, "fontSize": 34},
         "encoding": {"x": {"field": "t", "type": "quantitative", "axis": null, "scale": {"domain": [-272.5, 414], "nice": false, "zero": false}},
                      "y": {"field": "v", "type": "quantitative", "axis": null, "scale": {"domain": [-15, 20], "nice": false, "zero": false}}, "text": {"field": "label"}}}
      ]
    }
  ]
}
